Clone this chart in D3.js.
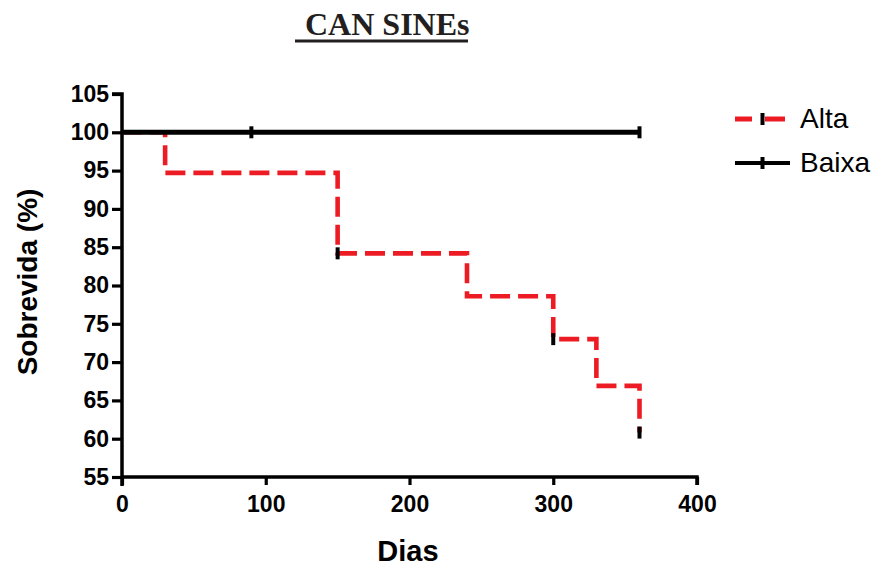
<!DOCTYPE html>
<html>
<head>
<meta charset="utf-8">
<script src="https://cdn.jsdelivr.net/npm/d3@7"></script>
<style>
  body { margin: 0; background: #fff; }
  svg { display: block; }
</style>
</head>
<body>
<svg id="chart" width="880" height="567"></svg>
<script>
// Kaplan-Meier steps
const altaDays = [0, 30, 150, 240, 300, 330, 360];
const altaSurv = [100, 94.7, 84.2, 78.6, 73.0, 66.9, 60.8];
const altaCensorDays = [150, 300, 360];

const baixaDays = [0, 360];
const baixaSurv = [100, 100];
const baixaCensorDays = [90, 360];

const xTicks = [0, 100, 200, 300, 400];
const yTicks = [55, 60, 65, 70, 75, 80, 85, 90, 95, 100, 105];

const svg = d3.select('#chart');
const plotLeft = 122, plotRight = 697, plotTop = 94, plotBottom = 477;
const sans = '"Liberation Sans", Arial, sans-serif';

const x = d3.scaleLinear().domain([0, 400]).range([plotLeft, plotRight]);
const y = d3.scaleLinear().domain([55, 105]).range([plotBottom, plotTop]);

// title, underlined with a leading space like the original
svg.append('text')
      .attr('x', 305).attr('y', 35)
      .style('font-family', '"Liberation Serif", "Times New Roman", serif')
      .style('font-weight', 'bold')
      .style('font-size', '32px')
      .attr('fill', '#231f20')
      .text('CAN SINEs');
svg.append('line')
      .attr('x1', 295).attr('x2', 468).attr('y1', 41).attr('y2', 41)
      .attr('stroke', '#231f20').attr('stroke-width', 3);

// axes
const xAxis = svg.append('g')
      .attr('transform', `translate(0,${plotBottom})`)
      .call(d3.axisBottom(x).tickValues(xTicks).tickSize(8).tickPadding(11));
const yAxis = svg.append('g')
      .attr('transform', `translate(${plotLeft},0)`)
      .call(d3.axisLeft(y).tickValues(yTicks).tickSize(10).tickPadding(3));

[xAxis, yAxis].forEach(g => {
      g.select('.domain').attr('stroke', '#000').attr('stroke-width', 3.5);
      g.selectAll('.tick line').attr('stroke', '#000').attr('stroke-width', 3.2);
      g.selectAll('.tick text')
            .attr('fill', '#000')
            .style('font-family', sans)
            .style('font-weight', 'bold')
            .style('font-size', '23px');
});
xAxis.select('.domain').attr('d', `M${plotLeft},0H${plotRight}V8`);
yAxis.select('.domain').attr('d', `M-10,${plotTop}H0V${plotBottom + 9}`);

// axis titles
svg.append('text')
      .attr('x', 408).attr('y', 561)
      .attr('text-anchor', 'middle')
      .style('font-family', sans)
      .style('font-weight', 'bold')
      .style('font-size', '29px')
      .text('Dias');
svg.append('text')
      .attr('transform', `translate(37,282) rotate(-90)`)
      .attr('text-anchor', 'middle')
      .style('font-family', sans)
      .style('font-weight', 'bold')
      .style('font-size', '28px')
      .text('Sobrevida (%)');

const step = d3.line()
      .x(d => x(d[0]))
      .y(d => y(d[1]))
      .curve(d3.curveStepAfter);

const survAt = (days, surv, t) => {
      let v = surv[0];
      days.forEach((d, i) => { if (d <= t) v = surv[i]; });
      return v;
};

// Alta (dashed red)
svg.append('path')
      .datum(altaDays.map((d, i) => [d, altaSurv[i]]))
      .attr('fill', 'none')
      .attr('stroke', '#ed1c24')
      .attr('stroke-width', 4.6)
      .attr('stroke-dasharray', '20,8')
      .attr('d', step);

// Baixa (solid black), drawn over Alta's first segment
svg.append('path')
      .datum(baixaDays.map((d, i) => [d, baixaSurv[i]]))
      .attr('fill', 'none')
      .attr('stroke', '#000')
      .attr('stroke-width', 5)
      .attr('d', step);

// censor marks
const censor = (days, surv, cd) => {
      svg.append('g').selectAll('line')
            .data(cd)
            .join('line')
            .attr('x1', d => x(d)).attr('x2', d => x(d))
            .attr('y1', d => y(survAt(days, surv, d)) - 6)
            .attr('y2', d => y(survAt(days, surv, d)) + 6)
            .attr('stroke', '#000')
            .attr('stroke-width', 4);
};
censor(altaDays, altaSurv, altaCensorDays);
censor(baixaDays, baixaSurv, baixaCensorDays);

// legend
const legend = [
      { name: 'Alta', color: '#ed1c24', dash: '17,13,20', y: 119, x2: 785 },
      { name: 'Baixa', color: '#000', dash: null, y: 163, x2: 790 }
];
const lg = svg.append('g').selectAll('g').data(legend).join('g');
lg.append('line')
      .attr('x1', 735).attr('x2', d => d.x2)
      .attr('y1', d => d.y).attr('y2', d => d.y)
      .attr('stroke', d => d.color)
      .attr('stroke-width', d => d.dash ? 5 : 4)
      .attr('stroke-dasharray', d => d.dash);
lg.append('line')
      .attr('x1', 762.5).attr('x2', 762.5)
      .attr('y1', d => d.y - 6).attr('y2', d => d.y + 6)
      .attr('stroke', '#000').attr('stroke-width', 4);
lg.append('text')
      .attr('x', 800).attr('y', d => d.y + 9)
      .style('font-family', sans)
      .style('font-size', '28px')
      .text(d => d.name);
</script>
</body>
</html>
